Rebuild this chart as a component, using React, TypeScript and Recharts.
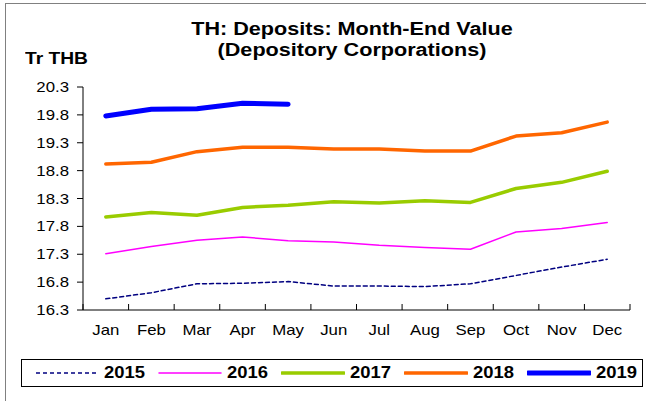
import React from "react";
import { LineChart, Line, XAxis, YAxis } from "recharts";

const months = ["Jan", "Feb", "Mar", "Apr", "May", "Jun", "Jul", "Aug", "Sep", "Oct", "Nov", "Dec"];
const v2015 = [16.5, 16.61, 16.77, 16.78, 16.81, 16.73, 16.73, 16.72, 16.77, 16.92, 17.07, 17.21];
const v2016 = [17.31, 17.44, 17.55, 17.61, 17.54, 17.52, 17.46, 17.42, 17.39, 17.7, 17.76, 17.87];
const v2017 = [17.97, 18.05, 18.0, 18.14, 18.18, 18.24, 18.22, 18.26, 18.23, 18.48, 18.59, 18.79];
const v2018 = [18.92, 18.95, 19.14, 19.22, 19.22, 19.19, 19.19, 19.15, 19.15, 19.42, 19.48, 19.67];
const v2019 = [19.78, 19.9, 19.91, 20.01, 19.99];
const yTicks = [16.3, 16.8, 17.3, 17.8, 18.3, 18.8, 19.3, 19.8, 20.3];

const series = [
  { key: "y2015", name: "2015", color: "#000080", width: 1.5, dash: "4 3" },
  { key: "y2016", name: "2016", color: "#FF00FF", width: 1.5 },
  { key: "y2017", name: "2017", color: "#99CC00", width: 3.5 },
  { key: "y2018", name: "2018", color: "#FF6600", width: 3.5 },
  { key: "y2019", name: "2019", color: "#0000FF", width: 5 },
];

const data = months.map((m, i) => ({
  i,
  m,
  y2015: v2015[i],
  y2016: v2016[i],
  y2017: v2017[i],
  y2018: v2018[i],
  y2019: i < v2019.length ? v2019[i] : null,
}));

// labels sit on the category centres, tick marks on the boundaries
const xTicks: number[] = [];
for (let k = -0.5; k <= 11.5; k += 0.5) xTicks.push(k);

const FONT = "'Liberation Sans', Arial, sans-serif";
const STRETCH = 1.2; // source text is drawn a bit wide

const MonthTick = (props: any) => {
  const { x, y, payload } = props;
  const v = payload.value as number;
  if (Number.isInteger(v)) {
    return (
      <text
        transform={`translate(${x},${y + 25}) scale(${STRETCH},1)`}
        textAnchor="middle"
        fontSize={14}
        fill="#000"
        fontFamily={FONT}
      >
        {months[v]}
      </text>
    );
  }
  return <line x1={x} x2={x} y1={y} y2={y - 6} stroke="#000" strokeWidth={1} />;
};

const ValueTick = (props: any) => {
  const { x, y, payload } = props;
  return (
    <text
      transform={`translate(${x},${y + 5}) scale(${STRETCH},1)`}
      textAnchor="end"
      fontSize={14}
      fill="#000"
      fontFamily={FONT}
    >
      {(payload.value as number).toFixed(1)}
    </text>
  );
};

export default function App() {
  return (
    <div
      style={{
        position: "absolute",
        left: 0,
        top: 0,
        width: 646,
        height: 401,
        overflow: "hidden",
        background: "#fff",
        fontFamily: FONT,
      }}
    >
      <div
        style={{
          position: "absolute",
          left: 5,
          top: 3,
          width: 660,
          height: 420,
          border: "1px solid #808080",
        }}
      />
      <div
        style={{
          position: "absolute",
          left: 0,
          width: 704,
          top: 19,
          textAlign: "center",
          fontWeight: "bold",
          fontSize: 18,
          lineHeight: "21px",
          color: "#000",
          transform: `scaleX(${STRETCH})`,
          transformOrigin: "352px 0",
        }}
      >
        TH: Deposits: Month-End Value
        <br />
        (Depository Corporations)
      </div>
      <div
        style={{
          position: "absolute",
          left: 25,
          top: 50,
          fontWeight: "bold",
          fontSize: 16,
          color: "#000",
          transform: `scaleX(${STRETCH})`,
          transformOrigin: "0 0",
        }}
      >
        Tr THB
      </div>
      <div style={{ position: "absolute", left: 0, top: 0 }}>
        <LineChart
          width={646}
          height={401}
          data={data}
          margin={{ top: 87, right: 16, left: 0, bottom: 61 }}
        >
          <XAxis
            type="number"
            dataKey="i"
            domain={[-0.5, 11.5]}
            ticks={xTicks}
            interval={0}
            tick={<MonthTick />}
            tickLine={false}
            tickSize={0}
            tickMargin={0}
            height={30}
            axisLine={{ stroke: "#000" }}
          />
          <YAxis
            type="number"
            domain={[16.3, 20.3]}
            ticks={yTicks}
            interval={0}
            width={83}
            tickSize={6}
            tickMargin={8}
            axisLine={{ stroke: "#000" }}
            tickLine={{ stroke: "#000" }}
            tick={<ValueTick />}
          />
          {series.map((s) => (
            <Line
              key={s.key}
              dataKey={s.key}
              name={s.name}
              stroke={s.color}
              strokeWidth={s.width}
              strokeDasharray={s.dash}
              strokeLinecap="round"
              strokeLinejoin="round"
              dot={false}
              activeDot={false}
              connectNulls={false}
              isAnimationActive={false}
            />
          ))}
        </LineChart>
      </div>
      <div
        style={{
          position: "absolute",
          left: 21,
          top: 359,
          width: 620,
          height: 26,
          border: "1px solid #000",
        }}
      >
        {series.map((s, k) => (
          <div
            key={s.key}
            style={{
              position: "absolute",
              left: 13 + k * 123,
              top: 0,
              height: 26,
              display: "flex",
              alignItems: "center",
            }}
          >
            <svg width={64} height={10}>
              <line
                x1={1}
                x2={63}
                y1={5}
                y2={5}
                stroke={s.color}
                strokeWidth={s.width}
                strokeDasharray={s.dash}
                strokeLinecap={s.dash ? "butt" : "round"}
              />
            </svg>
            <span
              style={{
                fontWeight: "bold",
                fontSize: 16,
                marginLeft: 5,
                display: "inline-block",
                transform: "scaleX(1.15)",
                transformOrigin: "0 50%",
              }}
            >
              {s.name}
            </span>
          </div>
        ))}
      </div>
    </div>
  );
}
